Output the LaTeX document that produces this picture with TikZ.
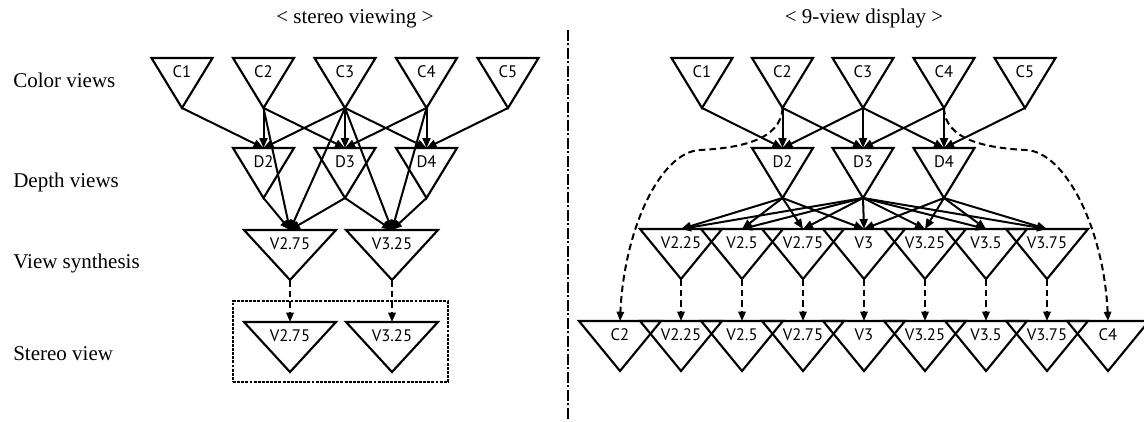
\documentclass[tikz,border=0pt]{standalone}
\usepackage{fontspec}
\setmainfont{Liberation Serif}
\newfontfamily\trifont{PT Sans}
\usetikzlibrary{arrows.meta,calc}
\newcommand{\mktri}[5]{%
  \node[tribox,minimum width=0.75pt*#4] (#1) at (#2,#3) {#5};
  \draw[triline] (#1.north west) -- (#1.north east) -- (#1.south) -- cycle;
  \draw[topline] (#1.north west) -- (#1.north east);
}
\begin{document}
\begin{tikzpicture}[x=0.75pt,y=-0.75pt,
  tribox/.style={anchor=north,inner sep=0pt,outer sep=0pt,text height=14.8pt,text depth=22.7pt,
    font=\trifont\fontsize{12.5}{12.5}\selectfont},
  triline/.style={line width=1.6pt,line join=miter},
  topline/.style={line width=2.2pt,line cap=butt},
  arr/.style={line width=1.5pt,-{Triangle[length=7.5pt,width=6pt]}},
  darr/.style={line width=1.5pt,dash pattern=on 5pt off 3pt,-{Triangle[length=7pt,width=5.5pt]}},
  lbl/.style={anchor=base west,inner sep=0pt,font=\fontsize{15.75}{18}\selectfont},
  ttl/.style={anchor=base,inner sep=0pt,font=\fontsize{15.75}{18}\selectfont},
  sepline/.style={line width=1.6pt,dash pattern=on 8pt off 2pt on 1.5pt off 2pt},
  boxline/.style={draw,line width=1.5pt,dash pattern=on 2.2pt off 0.9pt,inner sep=0pt,outer sep=0pt}
]
\useasboundingbox[fill=white] (0,0) rectangle (1144,421);
\clip (0,0) rectangle (1144,421);

% titles and row labels
\node[ttl] (tleft) at (355,23) {< stereo viewing >};
\node[ttl] (tright) at (864,23) {< 9-view display >};
\node[lbl] (lcol) at (13,87) {Color views};
\node[lbl] (ldep) at (13,187) {Depth views};
\node[lbl] (lsyn) at (13,268) {View synthesis};
\node[lbl] (lste) at (13,360) {Stereo view};

% separator
\coordinate (septop) at (568,30);
\coordinate (sepbot) at (568,421);
\draw[sepline] (septop) -- (sepbot);

% ---------- left: stereo viewing ----------
\mktri{lc1}{182}{58}{61}{C1}
\mktri{lc2}{263.5}{58}{61}{C2}
\mktri{lc3}{345}{58}{61}{C3}
\mktri{lc4}{426.5}{58}{61}{C4}
\mktri{lc5}{508}{58}{61}{C5}
\mktri{ld2}{263.5}{148}{61}{D2}
\mktri{ld3}{345}{148}{61}{D3}
\mktri{ld4}{426.5}{148}{61}{D4}
\mktri{lv275}{290}{230}{92}{V2.75}
\mktri{lv325}{392}{230}{92}{V3.25}
\mktri{ls275}{290}{322}{92}{V2.75}
\mktri{ls325}{392}{322}{92}{V3.25}
\node[boxline,minimum width=0.75pt*215,minimum height=0.75pt*81] (sbox) at (340.5,341.5) {};

\foreach \a/\b in {lc1/ld2,lc2/ld2,lc2/ld3,lc3/ld2,lc3/ld3,lc3/ld4,lc4/ld3,lc4/ld4,lc5/ld4,
  lc2/lv275,ld2/lv275,lc3/lv275,ld3/lv275,lc3/lv325,ld3/lv325,lc4/lv325,ld4/lv325}
  \draw[arr] (\a.south) -- (\b.north);
\draw[darr] (lv275.south) -- (ls275.north);
\draw[darr] (lv325.south) -- (ls325.north);

% ---------- right: 9-view display ----------
\mktri{rc1}{702}{58}{61}{C1}
\mktri{rc2}{782.5}{58}{61}{C2}
\mktri{rc3}{863}{58}{61}{C3}
\mktri{rc4}{944}{58}{61}{C4}
\mktri{rc5}{1025}{58}{61}{C5}
\mktri{rd2}{782.5}{148}{61}{D2}
\mktri{rd3}{863}{148}{61}{D3}
\mktri{rd4}{944}{148}{61}{D4}
\mktri{rv1}{681}{229}{82}{V2.25}
\mktri{rv2}{742}{229}{82}{V2.5}
\mktri{rv3}{803}{229}{82}{V2.75}
\mktri{rv4}{864}{229}{82}{V3}
\mktri{rv5}{925}{229}{82}{V3.25}
\mktri{rv6}{986}{229}{82}{V3.5}
\mktri{rv7}{1047}{229}{82}{V3.75}
\mktri{rb0}{620}{321}{82}{C2}
\mktri{rb1}{681}{321}{82}{V2.25}
\mktri{rb2}{742}{321}{82}{V2.5}
\mktri{rb3}{803}{321}{82}{V2.75}
\mktri{rb4}{864}{321}{82}{V3}
\mktri{rb5}{925}{321}{82}{V3.25}
\mktri{rb6}{986}{321}{82}{V3.5}
\mktri{rb7}{1047}{321}{82}{V3.75}
\mktri{rb8}{1108}{321}{82}{C4}

\foreach \a/\b in {rc1/rd2,rc2/rd2,rc2/rd3,rc3/rd2,rc3/rd3,rc3/rd4,rc4/rd3,rc4/rd4,rc5/rd4,
  rd2/rv1,rd2/rv2,rd2/rv3,rd2/rv4,
  rd3/rv1,rd3/rv2,rd3/rv3,rd3/rv4,rd3/rv5,rd3/rv6,rd3/rv7,
  rd4/rv4,rd4/rv5,rd4/rv6,rd4/rv7}
  \draw[arr] (\a.south) -- (\b.north);
\foreach \i in {1,...,7}
  \draw[darr] (rv\i.south) -- (rb\i.north);

\coordinate (bendl) at (700,150);
\coordinate (bendr) at (1026,150);
\draw[darr] (rc2.south) .. controls (781,140) and (740,148) .. (bendl)
  .. controls (660,152) and (624,230) .. (rb0.north);
\draw[darr] (rc4.south) .. controls (945,140) and (986,148) .. (bendr)
  .. controls (1066,152) and (1104,230) .. (rb8.north);
\end{tikzpicture}
\end{document}
